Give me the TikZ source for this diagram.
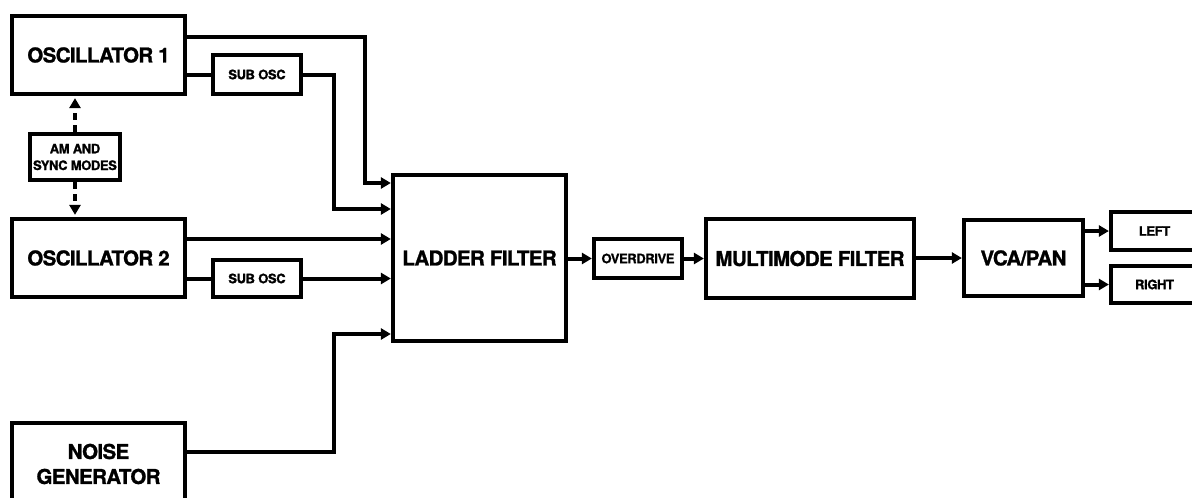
\documentclass[tikz,border=0pt]{standalone}
\usepackage{fontspec}
\setmainfont{TeX Gyre Heros}[LetterSpace=-3,BoldFeatures={FakeBold=1.2}]
\usetikzlibrary{arrows.meta}
\begin{document}
\begin{tikzpicture}[x=1pt,y=-1pt,
  blk/.style={draw=black,line width=4.2pt,rectangle,inner sep=0pt,align=center,font=\fontsize{20.5}{25}\bfseries\selectfont},
  sblk/.style={blk,font=\fontsize{13}{16.7}\bfseries\selectfont},
  conn/.style={line width=4pt,-{Triangle[length=10pt,width=11pt]}},
  plain/.style={line width=4pt},
  dashconn/.style={line width=4pt,dash pattern=on 7pt off 5pt,-{Triangle[length=10pt,width=11pt]}}
]
\useasboundingbox (0,0) rectangle (1192,498);
\clip (0,0) rectangle (1192,498);
% nodes
\node[blk,minimum width=173pt,minimum height=78pt] (osc1) at (98.5,55) {OSCILLATOR 1};
\node[sblk,minimum width=88pt,minimum height=39pt] (sub1) at (257,74.5) {SUB OSC};
\node[sblk,minimum width=90pt,minimum height=46pt] (am) at (75,157) {AM AND\\SYNC MODES};
\node[blk,minimum width=173pt,minimum height=78pt] (osc2) at (98.5,258) {OSCILLATOR 2};
\node[sblk,minimum width=88pt,minimum height=37pt] (sub2) at (257,278.5) {SUB OSC};
\node[blk,minimum width=173pt,minimum height=82pt] (noise) at (98.5,464) {NOISE\\GENERATOR};
\node[blk,minimum width=173pt,minimum height=166pt] (ladder) at (479.5,258) {LADDER FILTER};
\node[sblk,minimum width=88pt,minimum height=39pt] (od) at (638,258.5) {OVERDRIVE};
\node[blk,minimum width=208pt,minimum height=79pt] (mm) at (810,258.5) {MULTIMODE FILTER};
\node[blk,minimum width=119pt,minimum height=76pt] (vca) at (1023.5,258) {VCA/PAN};
\node[sblk,minimum width=87pt,minimum height=38pt] (left) at (1154.5,231) {LEFT};
\node[sblk,minimum width=87pt,minimum height=37pt] (right) at (1154.5,284.5) {RIGHT};
% connectors
\draw[conn] (osc1.east |- 0,37) -| (365,183) -- (ladder.west |- 0,183);
\draw[plain] (osc1.east |- sub1) -- (sub1.west);
\draw[conn] (sub1.east) -| (334,209) -- (ladder.west |- 0,209);
\draw[conn] (osc2.east |- 0,239) -- (ladder.west |- 0,239);
\draw[plain] (osc2.east |- sub2) -- (sub2.west);
\draw[conn] (sub2.east) -- (ladder.west |- sub2);
\draw[conn] (noise.east |- 0,452) -| (334,334) -- (ladder.west |- 0,334);
\draw[dashconn] (am.north) -- ([yshift=-2pt]am.north |- osc1.south);
\draw[dashconn] (am.south) -- ([yshift=2pt]am.south |- osc2.north);
\draw[conn] (ladder.east |- od) -- (od.west);
\draw[conn] (od.east) -- (mm.west |- od);
\draw[conn] (mm.east |- vca) -- (vca.west);
\draw[conn] (vca.east |- left) -- (left.west);
\draw[conn] (vca.east |- right) -- (right.west);
\end{tikzpicture}
\end{document}
